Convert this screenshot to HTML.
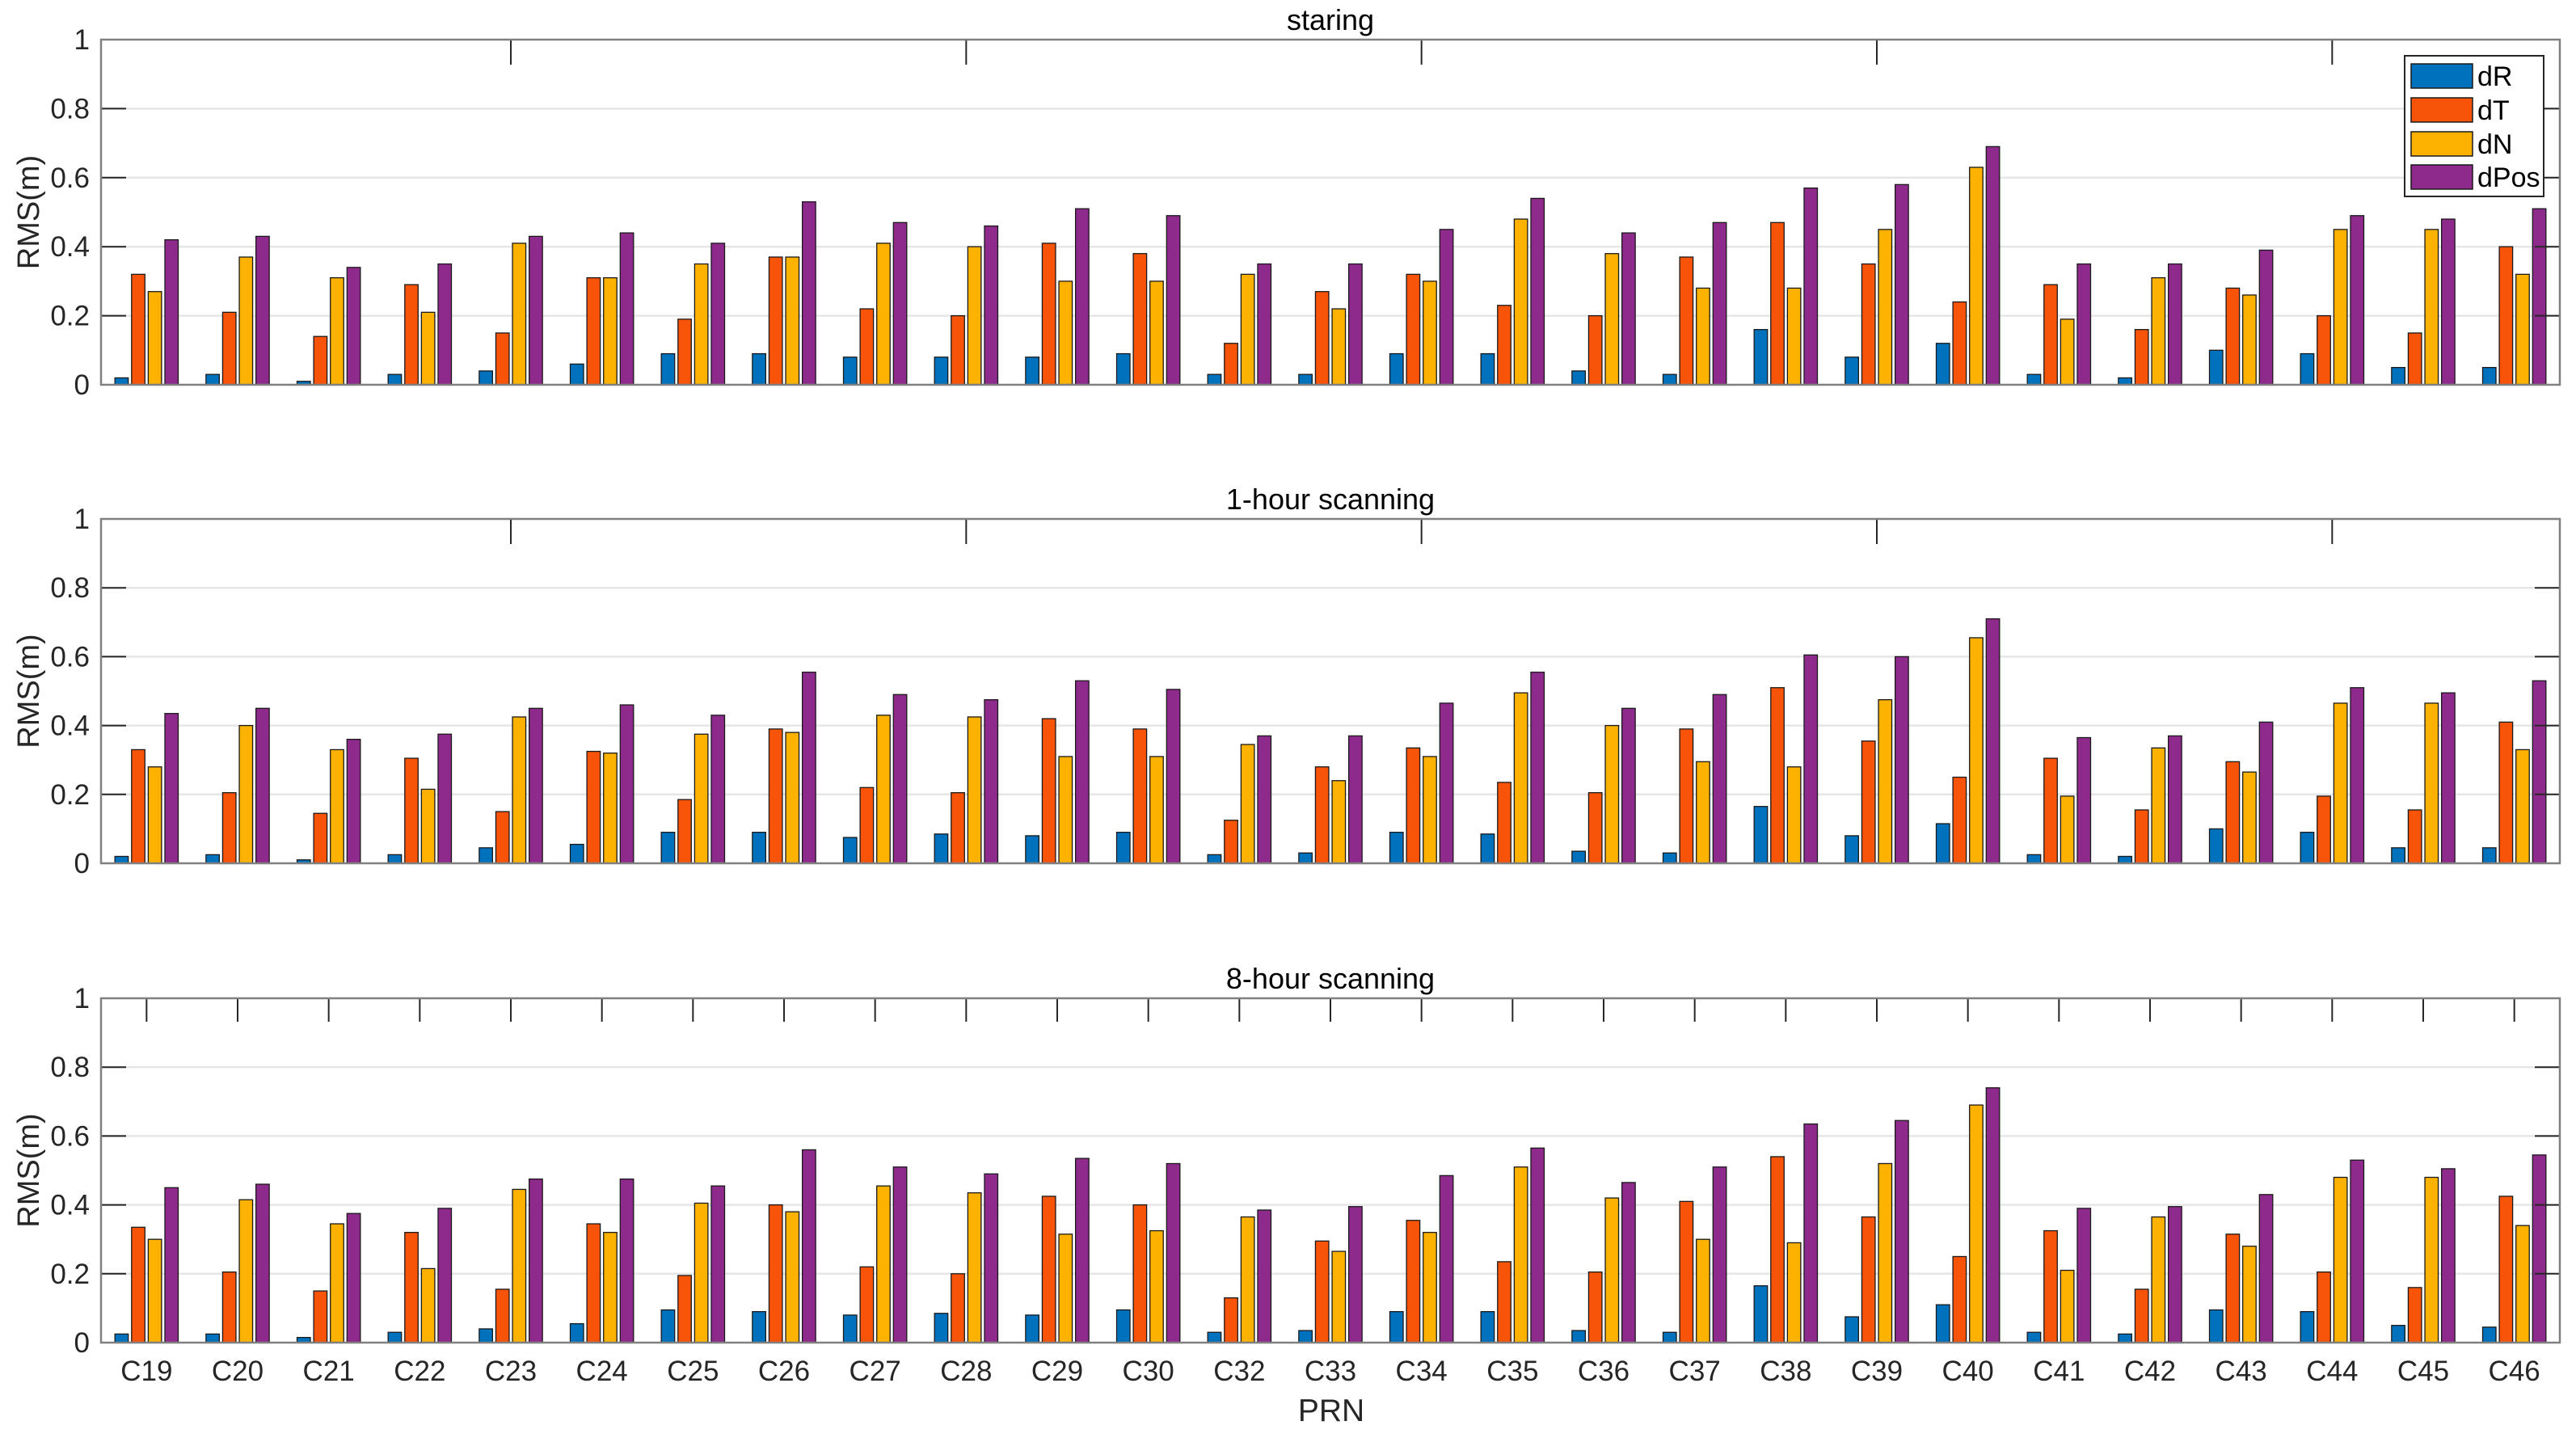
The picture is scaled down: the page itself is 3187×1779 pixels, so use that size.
<!DOCTYPE html>
<html><head><meta charset="utf-8">
<style>
html,body{margin:0;padding:0;background:#fff;}
svg{display:block;font-family:"Liberation Sans",Arial,sans-serif;}
</style></head>
<body>
<svg id="chart" width="3187" height="1779" viewBox="0 0 3187 1779" xmlns="http://www.w3.org/2000/svg"></svg>
<script>
const categories = ["C19","C20","C21","C22","C23","C24","C25","C26","C27","C28","C29","C30","C32","C33","C34","C35","C36","C37","C38","C39","C40","C41","C42","C43","C44","C45","C46"];
const seriesNames = ["dR","dT","dN","dPos"];
const panelTitles = ["staring","1-hour scanning","8-hour scanning"];
const yTicks = [0,0.2,0.4,0.6,0.8,1];
const yTickLabels = ["0","0.2","0.4","0.6","0.8","1"];

const staringDR   = [.02,.03,.01,.03,.04,.06,.09,.09,.08,.08,.08,.09,.03,.03,.09,.09,.04,.03,.16,.08,.12,.03,.02,.10,.09,.05,.05];
const staringDT   = [.32,.21,.14,.29,.15,.31,.19,.37,.22,.20,.41,.38,.12,.27,.32,.23,.20,.37,.47,.35,.24,.29,.16,.28,.20,.15,.40];
const staringDN   = [.27,.37,.31,.21,.41,.31,.35,.37,.41,.40,.30,.30,.32,.22,.30,.48,.38,.28,.28,.45,.63,.19,.31,.26,.45,.45,.32];
const staringDPos = [.42,.43,.34,.35,.43,.44,.41,.53,.47,.46,.51,.49,.35,.35,.45,.54,.44,.47,.57,.58,.69,.35,.35,.39,.49,.48,.51];

const scan1DR   = [.02,.025,.01,.025,.045,.055,.09,.09,.075,.085,.08,.09,.025,.03,.09,.085,.035,.03,.165,.08,.115,.025,.02,.10,.09,.045,.045];
const scan1DT   = [.33,.205,.145,.305,.15,.325,.185,.39,.22,.205,.42,.39,.125,.28,.335,.235,.205,.39,.51,.355,.25,.305,.155,.295,.195,.155,.41];
const scan1DN   = [.28,.40,.33,.215,.425,.32,.375,.38,.43,.425,.31,.31,.345,.24,.31,.495,.40,.295,.28,.475,.655,.195,.335,.265,.465,.465,.33];
const scan1DPos = [.435,.45,.36,.375,.45,.46,.43,.555,.49,.475,.53,.505,.37,.37,.465,.555,.45,.49,.605,.60,.71,.365,.37,.41,.51,.495,.53];

const scan8DR   = [.025,.025,.015,.03,.04,.055,.095,.09,.08,.085,.08,.095,.03,.035,.09,.09,.035,.03,.165,.075,.11,.03,.025,.095,.09,.05,.045];
const scan8DT   = [.335,.205,.15,.32,.155,.345,.195,.40,.22,.20,.425,.40,.13,.295,.355,.235,.205,.41,.54,.365,.25,.325,.155,.315,.205,.16,.425];
const scan8DN   = [.30,.415,.345,.215,.445,.32,.405,.38,.455,.435,.315,.325,.365,.265,.32,.51,.42,.30,.29,.52,.69,.21,.365,.28,.48,.48,.34];
const scan8DPos = [.45,.46,.375,.39,.475,.475,.455,.56,.51,.49,.535,.52,.385,.395,.485,.565,.465,.51,.635,.645,.74,.39,.395,.43,.53,.505,.545];

const panelData = [
  [staringDR, staringDT, staringDN, staringDPos],
  [scan1DR, scan1DT, scan1DN, scan1DPos],
  [scan8DR, scan8DT, scan8DN, scan8DPos]
];

const colors = ["#0072BD","#F75309","#FDB201","#8F2A8D"];
const NS = "http://www.w3.org/2000/svg";
const svg = document.getElementById("chart");
const X0 = 125, X1 = 3167;
const panels = [{top:49,bottom:476},{top:642,bottom:1068},{top:1235,bottom:1661}];

function el(tag, attrs, parent){
  const e = document.createElementNS(NS, tag);
  for (const k in attrs) e.setAttribute(k, attrs[k]);
  (parent||svg).appendChild(e);
  return e;
}
const n = categories.length;
const step = (X1 - X0) / n;
function xScale(i){ return X0 + step * (i + 0.5); }
const barOffsets = [-1.5,-0.5,0.5,1.5];
const barSpacing = 20.6, barW = 16.5;

panels.forEach((p, pi) => {
  const g = el("g", {});
  
  
  const yScale = v => p.bottom - v * (p.bottom - p.top);
  yTicks.forEach((t) => {
    if (t > 0 && t < 1) {
      const gl = el("line", {x1:X0, x2:X1, y1:yScale(t), y2:yScale(t), stroke:"#e6e6e6", "stroke-width":2.5}, g);
      
      
    }
  });
  panelData[pi].forEach((series, si) => {
    series.forEach((v, ci) => {
      const cx = xScale(ci) + barOffsets[si] * barSpacing;
      const r = el("rect", {x:cx - barW/2, y:yScale(v), width:barW, height:yScale(0) - yScale(v), fill:colors[si], stroke:"#1a1a1a", "stroke-width":1.3}, g);
      
      
    });
  });
  yTicks.forEach((t, ti) => {
    const y = yScale(t);
    el("line", {x1:X0, x2:X0+31, y1:y, y2:y, stroke:"#262626", "stroke-width":2}, g);
    el("line", {x1:X1-31, x2:X1, y1:y, y2:y, stroke:"#262626", "stroke-width":2}, g);
    const tl = el("text", {x:111, y:y+12, "text-anchor":"end", "font-size":35, fill:"#262626"}, g);
    tl.textContent = yTickLabels[ti];
    
    
  });
  if (pi < 2) {
    [5,10,15,20,25].forEach(k => {
      const x = X0 + step * (k - 0.5);
      el("line", {x1:x, x2:x, y1:p.top, y2:p.top+31, stroke:"#262626", "stroke-width":2}, g);
    });
  } else {
    categories.forEach((c, ci) => {
      const x = xScale(ci);
      el("line", {x1:x, x2:x, y1:p.top, y2:p.top+29, stroke:"#262626", "stroke-width":2}, g);
      const xl = el("text", {x:x, y:1708, "text-anchor":"middle", "font-size":35, fill:"#262626"}, g);
      xl.textContent = c;
      
      
    });
  }
  const bx = el("rect", {x:X0, y:p.top, width:X1-X0, height:p.bottom-p.top, fill:"none", stroke:"#808080", "stroke-width":2.5}, g);
  
  
  const tt = el("text", {x:(X0+X1)/2, y:p.top-12, "text-anchor":"middle", "font-size":36, fill:"#000"}, g);
  tt.textContent = panelTitles[pi];
  
  
  const cy = (p.top + p.bottom) / 2;
  const yl = el("text", {x:0, y:0, "text-anchor":"middle", "font-size":38, fill:"#262626", transform:"translate(48," + cy + ") rotate(-90)"}, g);
  yl.textContent = "RMS(m)";
  
  
});

const xt = el("text", {x:1647, y:1758, "text-anchor":"middle", "font-size":39, fill:"#262626"});
xt.textContent = "PRN";



const lg = el("g", {});


el("rect", {x:2975, y:69, width:172, height:174, fill:"#fff", stroke:"#262626", "stroke-width":2}, lg);
const rowY = [79,121,163,204];
seriesNames.forEach((s, i) => {
  const sw = el("rect", {x:2983, y:rowY[i], width:76, height:30, fill:colors[i], stroke:"#1a1a1a", "stroke-width":1.5}, lg);
  
  
  const t = el("text", {x:3065, y:rowY[i]+27, "font-size":34, fill:"#000"}, lg);
  t.textContent = s;
  
  
});
</script>
</body></html>
